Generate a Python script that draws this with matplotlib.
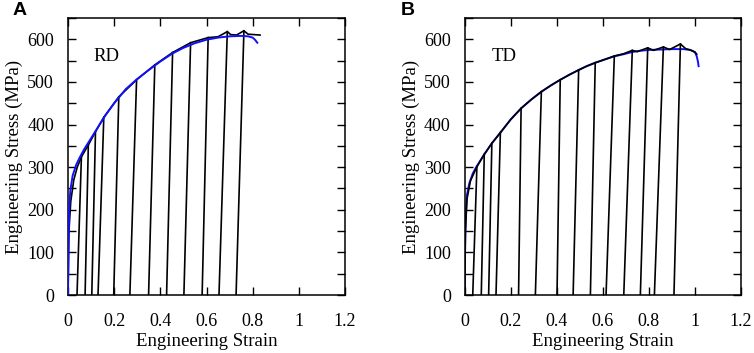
import matplotlib
matplotlib.use("Agg")
import matplotlib.pyplot as plt
from matplotlib.ticker import MultipleLocator

plt.rcParams['font.family'] = ['Liberation Serif', 'DejaVu Serif']

# RD: monotonic envelope (blue)
rd_env_strain = [0, 0.002, 0.005, 0.01, 0.02, 0.035, 0.05, 0.07, 0.1, 0.13, 0.16, 0.2, 0.25,
                 0.3, 0.35, 0.4, 0.45, 0.5, 0.55, 0.6, 0.65, 0.7, 0.75, 0.78, 0.8, 0.81, 0.82]
rd_env_stress = [0, 120, 200, 245, 280, 305, 322, 342, 368, 394, 420, 450, 483,
                 507, 528, 548, 566, 580, 591, 599, 604, 607, 608, 607, 604, 599, 592]

# RD: cyclic test envelope (black)
rd_blk_strain = [0, 0.004, 0.012, 0.025, 0.04, 0.058, 0.088, 0.119, 0.155, 0.22, 0.297, 0.376,
                 0.453, 0.531, 0.607, 0.65, 0.69, 0.705, 0.73, 0.762, 0.78, 0.832]
rd_blk_stress = [0, 150, 220, 270, 300, 324, 352, 383, 417, 465, 505, 540,
                 569, 592, 604, 606, 618, 611, 610, 620, 612, 610]

# RD: reloading branches (start at zero stress -> top on envelope)
rd_rel_start = [0.039, 0.074, 0.103, 0.130, 0.198, 0.268, 0.349, 0.427, 0.502, 0.581, 0.654, 0.728]
rd_rel_top_strain = [0.058, 0.088, 0.119, 0.155, 0.22, 0.297, 0.376, 0.453, 0.531, 0.607, 0.69, 0.762]
rd_rel_top_stress = [324, 352, 383, 417, 465, 505, 540, 569, 592, 604, 618, 620]

# TD: monotonic envelope (blue)
td_env_strain = [0, 0.002, 0.005, 0.01, 0.02, 0.035, 0.05, 0.085, 0.118, 0.155, 0.2, 0.245,
                 0.29, 0.333, 0.375, 0.415, 0.455, 0.495, 0.53, 0.567, 0.61, 0.65, 0.69, 0.726,
                 0.76, 0.8, 0.85, 0.9, 0.95, 0.98, 1.0, 1.008, 1.013, 1.016]
td_env_stress = [0, 120, 190, 235, 262, 285, 300, 330, 356, 381, 412, 438,
                 459, 477, 492, 505, 517, 528, 537, 545, 553, 560, 565, 570,
                 573, 575, 576, 577, 577, 575, 570, 560, 548, 537]

# TD: cyclic test envelope (black)
td_blk_strain = [0, 0.003, 0.01, 0.025, 0.053, 0.085, 0.118, 0.155, 0.2, 0.245, 0.29, 0.333,
                 0.375, 0.415, 0.455, 0.495, 0.53, 0.567, 0.61, 0.65, 0.69, 0.728, 0.75,
                 0.795, 0.82, 0.863, 0.89, 0.937, 0.96, 0.98, 1.0, 1.008]
td_blk_stress = [0, 150, 225, 268, 301, 330, 356, 381, 412, 438, 459, 477,
                 492, 505, 517, 528, 537, 545, 553, 561, 566, 574, 571,
                 580, 574, 582, 576, 589, 578, 575, 570, 565]

# TD: reloading branches
td_rel_start = [0.035, 0.072, 0.104, 0.136, 0.234, 0.307, 0.401, 0.471, 0.546, 0.614,
                0.691, 0.763, 0.824, 0.909]
td_rel_top_strain = [0.053, 0.085, 0.118, 0.155, 0.245, 0.333, 0.415, 0.495, 0.567, 0.65,
                     0.728, 0.795, 0.863, 0.937]
td_rel_top_stress = [301, 330, 356, 381, 438, 477, 505, 528, 545, 561, 574, 580, 582, 589]

x_ticks = [0, 0.2, 0.4, 0.6, 0.8, 1.0, 1.2]
x_tick_labels = ['0', '0.2', '0.4', '0.6', '0.8', '1', '1.2']
y_ticks = [0, 100, 200, 300, 400, 500, 600]

fig = plt.figure(figsize=(7.54, 3.53), dpi=100)
axA = fig.add_axes([0.0902, 0.1643, 0.3674, 0.7847])
axB = fig.add_axes([0.6163, 0.1643, 0.3664, 0.7847])

panels = [
    (axA, 'RD', rd_env_strain, rd_env_stress, rd_blk_strain, rd_blk_stress,
     rd_rel_start, rd_rel_top_strain, rd_rel_top_stress, 0.109, True),
    (axB, 'TD', td_env_strain, td_env_stress, td_blk_strain, td_blk_stress,
     td_rel_start, td_rel_top_strain, td_rel_top_stress, 0.117, False),
]

for ax, name, es, ey, bs, by, rs, ts, ty, tx, blue_top in panels:
    zb, zk = (3, 2) if blue_top else (2, 3)
    ax.plot(es, ey, color='#1010ff', lw=1.4, zorder=zb)
    ax.plot(bs, by, color='black', lw=1.2, zorder=zk)
    for s, xt, yt in zip(rs, ts, ty):
        ax.plot([s, xt], [0, yt], color='black', lw=1.2, zorder=zk)

    ax.set_xlim(0, 1.2)
    ax.set_ylim(0, 650)
    ax.set_xticks(x_ticks)
    ax.set_xticklabels(x_tick_labels)
    ax.set_yticks(y_ticks)
    ax.yaxis.set_minor_locator(MultipleLocator(50))
    ax.tick_params(which='both', direction='in', top=True, right=True,
                   length=6, width=1.0, labelsize=13)
    ax.tick_params(axis='x', pad=13)
    ax.tick_params(axis='y', pad=10)
    for sp in ax.spines.values():
        sp.set_linewidth(1.1)
    ax.set_xlabel('Engineering Strain', fontsize=13.5, labelpad=2)
    ax.set_ylabel('Engineering Stress (MPa)', fontsize=13.5, labelpad=3)
    ax.text(tx, 559, name, fontsize=13.5, va='center', ha='left')

fig.text(0.017, 0.995, 'A', fontsize=14, fontweight='bold', va='top', ha='left',
         family='Liberation Sans')
fig.text(0.531, 0.995, 'B', fontsize=14, fontweight='bold', va='top', ha='left',
         family='Liberation Sans')

fig.savefig('out.png', dpi=100)
